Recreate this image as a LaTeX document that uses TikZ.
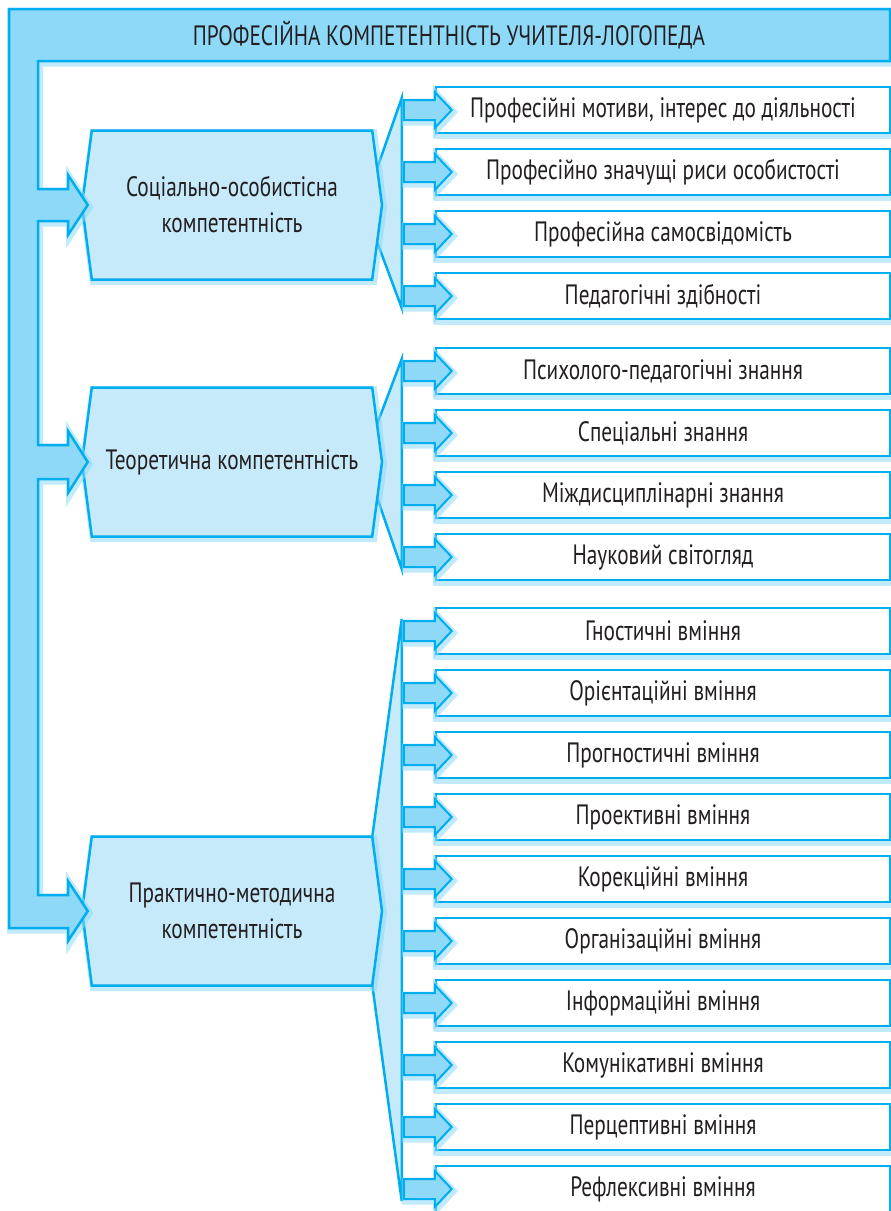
\documentclass[tikz,border=0pt]{standalone}
\usepackage{fontspec}
\setmainfont{PT Sans}[FakeStretch=0.76]
\usepackage{tikz}
\usetikzlibrary{shapes.symbols,calc}
\pgfdeclarelayer{fondo}
\pgfsetlayers{fondo,main}
\definecolor{cian}{HTML}{00AEEF}
\definecolor{celeste}{HTML}{8ED8F8}
\definecolor{palido}{HTML}{C7EAFB}
\definecolor{tinta}{HTML}{231F20}

\begin{document}
\begin{tikzpicture}[x=1pt, y=-1pt, node distance=62pt, font=\fontsize{28}{36}\selectfont]
    \tikzstyle{brillo}=[preaction={draw=celeste, line width=7pt, opacity=.55, transform canvas={xshift=1.5pt, yshift=-2pt}}]
    \tikzstyle{marco}=[brillo, draw=cian, line width=2.5pt, fill=celeste]
    \tikzstyle{comp}=[brillo, signal, signal to=east and west, signal pointer angle=165, draw=cian, line width=2.5pt, fill=palido, minimum width=300pt, minimum height=149pt, align=center, text=tinta]
    \tikzstyle{item}=[brillo, rectangle, draw=cian, line width=2.5pt, fill=white, minimum width=454pt, minimum height=46pt, text=tinta]
    \tikzstyle{abanico}=[draw=cian, line width=2.5pt, fill=palido]
    \tikzstyle{flecha}=[brillo, draw=cian, line width=2pt, fill=celeste]

    \useasboundingbox (0,0) rectangle (891,1211);

    % Competencias
    \node[comp] (social) at (232,205) {Соціально-особистісна\\компетентність};
    \node[comp] (teor)   at (232,462) {Теоретична компетентність};
    \node[comp] (pract)  at (232,911) {Практично-методична\\компетентність};

    % Social
    \node[item] (s1) at (663,110)     {Професійні мотиви, інтерес до діяльності};
    \node[item] (s2) [below of=s1]    {Професійно значущі риси особистості};
    \node[item] (s3) [below of=s2]    {Професійна самосвідомість};
    \node[item] (s4) [below of=s3]    {Педагогічні здібності};

    % Teorica
    \node[item] (t1) at (663,371)     {Психолого-педагогічні знання};
    \node[item] (t2) [below of=t1]    {Спеціальні знання};
    \node[item] (t3) [below of=t2]    {Міждисциплінарні знання};
    \node[item] (t4) [below of=t3]    {Науковий світогляд};

    % Practica
    \node[item] (p1)  at (663,631)    {Гностичні вміння};
    \node[item] (p2)  [below of=p1]   {Орієнтаційні вміння};
    \node[item] (p3)  [below of=p2]   {Прогностичні вміння};
    \node[item] (p4)  [below of=p3]   {Проективні вміння};
    \node[item] (p5)  [below of=p4]   {Корекційні вміння};
    \node[item] (p6)  [below of=p5]   {Організаційні вміння};
    \node[item] (p7)  [below of=p6]   {Інформаційні вміння};
    \node[item] (p8)  [below of=p7]   {Комунікативні вміння};
    \node[item] (p9)  [below of=p8]   {Перцептивні вміння};
    \node[item] (p10) [below of=p9]   {Рефлексивні вміння};

    % Marco con el titulo
    \draw[marco] (9,9) -- (890,9) -- (890,61) -- (38,61)
        -- (38,189) -- (68,189) -- (68,175) -- ([xshift=7pt]social.west) -- (68,235) -- (68,221) -- (38,221)
        -- (38,445) -- (68,445) -- (68,431) -- ([xshift=7pt]teor.west)   -- (68,493) -- (68,479) -- (38,479)
        -- (38,895) -- (68,895) -- (68,881) -- ([xshift=7pt]pract.west)  -- (68,941) -- (68,928) -- (9,928) -- cycle;
    \node[text=tinta] (titulo) at (449,35) {ПРОФЕСІЙНА КОМПЕТЕНТНІСТЬ УЧИТЕЛЯ-ЛОГОПЕДА};

    % Abanicos
    \begin{pgfonlayer}{fondo}
    \draw[abanico] ($(social.east)+(-20,0)$) -- ($(social.east)+(-5,-40)$) -- ($(s1.west)+(-33,-12)$)
        -- ($(s4.west)+(-33,12)$) -- ($(social.east)+(-5,40)$) -- cycle;
    \draw[abanico] ($(teor.east)+(-20,0)$) -- ($(teor.east)+(-5,-41)$) -- ($(t1.west)+(-33,-12)$)
        -- ($(t4.west)+(-33,12)$) -- ($(teor.east)+(-5,39)$) -- cycle;
    \draw[abanico] ($(pract.east)+(-30,0)$) -- ($(pract.east)+(-11,-74)$) -- ($(p1.west)+(-33,-12)$)
        -- ($(p10.west)+(-33,12)$) -- ($(pract.east)+(-11,74)$) -- cycle;
    \end{pgfonlayer}

    % Flechas
    \foreach \n in {s1,s2,s3,s4,t1,t2,t3,t4,p1,p2,p3,p4,p5,p6,p7,p8,p9,p10}
        \draw[flecha] ($(\n.west)+(-31,-10)$) -- ++(31,0) -- ++(0,-8) -- ++(17,18) -- ++(-17,18) -- ++(0,-8) -- ++(-31,0) -- cycle;
\end{tikzpicture}
\end{document}
